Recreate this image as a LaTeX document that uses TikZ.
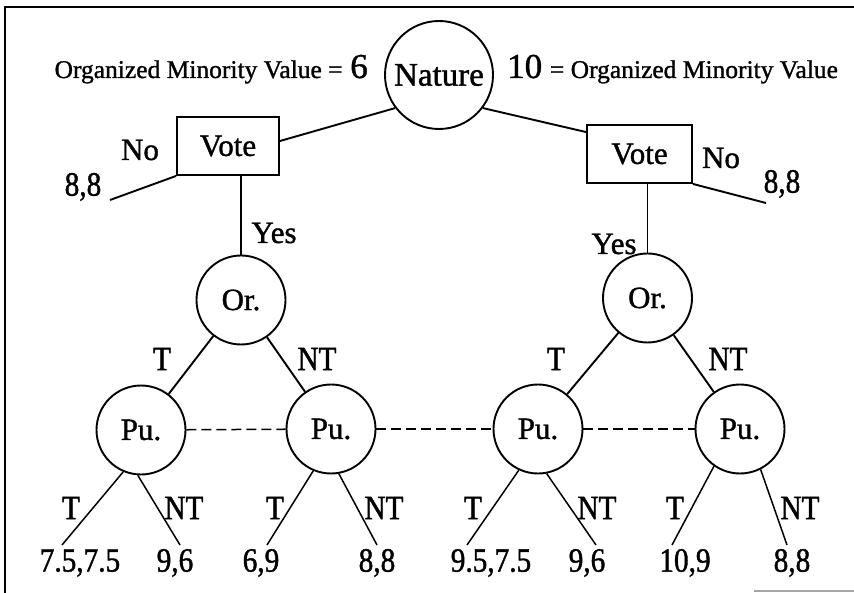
\documentclass[tikz,border=0pt]{standalone}
\usepackage{fontspec}
\setmainfont{Liberation Serif}[FakeBold=1.2]
\newfontfamily\condfont{Liberation Serif}[FakeStretch=0.86,FakeBold=1.2]
\usetikzlibrary{calc}
\begin{document}
\begin{tikzpicture}[x=1pt,y=-1pt,
  every node/.style={font=\fontsize{31}{34}\selectfont, inner sep=0pt},
  cond/.style={font=\condfont\fontsize{34}{38}\selectfont},
  edge/.style={line width=1.9pt},
  thinedge/.style={line width=1.5pt},
  circ/.style={draw, circle, line width=1.9pt, minimum size=89pt},
  votebox/.style={draw, rectangle, line width=1.9pt, minimum width=102pt, minimum height=58pt},
  info/.style={dashed, line width=1.5pt, dash pattern=on 10pt off 5pt}
]
\useasboundingbox (0,0) rectangle (854,593);
% frame
\draw[line width=2pt] (5,593) -- (5,7) -- (854,7);
\draw[black!35, line width=1.5pt] (754,591) -- (854,591);

% nature
\node[circ, minimum size=108pt, font=\fontsize{33}{36}\selectfont] (nature) at (439,75) {Nature};
\node[anchor=base east] (lefttext) at (368,78) {{\fontsize{25.5}{28}\selectfont Organized Minority Value =} {\fontsize{35}{38}\selectfont 6}};
\node[anchor=base west] (righttext) at (507,78) {{\fontsize{35}{38}\selectfont 10} {\fontsize{25.5}{28}\selectfont = Organized Minority Value}};

% vote boxes
\node[votebox] (vote1) at (228,146) {Vote};
\node[votebox, minimum width=105pt] (vote2) at (639.5,154) {Vote};
\draw[edge] (nature.217) -- ($(vote1.east)+(0,-5)$);
\draw[edge] (nature.323) -- ($(vote2.north west)+(0,8)$);

\coordinate (v1leaf) at (110,200);
\coordinate (v2leaf) at (766,203);
\draw[edge] (vote1.south west) -- (v1leaf);
\draw[edge] (vote2.south east) -- (v2leaf);
\node (v1no) at (140,150) {No};
\node[cond] (v1pay) at (83,187) {8,8};
\node (v2no) at (721,158) {No};
\node[cond] (v2pay) at (782,184) {8,8};

% organizer nodes
\node[circ] (or1) at (241,300) {Or.};
\node[circ] (or2) at (647.5,298) {Or.};
\draw[thinedge] (or1.north) -- (or1.north |- vote1.south);
\draw[thinedge] (or2.north) -- (or2.north |- vote2.south);
\node (yes1) at (274,233) {Yes};
\node (yes2) at (614,244) {Yes};

% public nodes
\node[circ] (pu1) at (141,430) {Pu.};
\node[circ] (pu2) at (331,429) {Pu.};
\node[circ] (pu3) at (538,429) {Pu.};
\node[circ] (pu4) at (740,429) {Pu.};
\draw[edge] (or1) -- (pu1);
\draw[edge] (or1) -- (pu2);
\draw[edge] (or2) -- (pu3);
\draw[edge] (or2) -- (pu4);
\node[cond] (ot1) at (162,359) {T};
\node[cond] (ont1) at (317,359) {NT};
\node[cond] (ot2) at (556,359) {T};
\node[cond] (ont2) at (728,359) {NT};

\draw[info] (pu1) -- (pu2);
\draw[info] (pu2) -- (pu3);
\draw[info] (pu3) -- (pu4);

% leaves
\coordinate (l1a) at (62,545);
\coordinate (l1b) at (180,545);
\coordinate (l2a) at (267,545);
\coordinate (l2b) at (377,545);
\coordinate (l3a) at (467,545);
\coordinate (l3b) at (596,545);
\coordinate (l4a) at (672,545);
\coordinate (l4b) at (787,545);
\draw[thinedge] (pu1.247) -- (l1a);
\draw[thinedge] (pu1.266) -- (l1b);
\draw[thinedge] (pu2.247) -- (l2a);
\draw[thinedge] (pu2.280) -- (l2b);
\draw[thinedge] (pu3.245) -- (l3a);
\draw[thinedge] (pu3.281) -- (l3b);
\draw[thinedge] (pu4.235) -- (l4a);
\draw[thinedge] (pu4.297) -- (l4b);

\node[cond] (pt1) at (71,508) {T};
\node[cond] (pnt1) at (184,508) {NT};
\node[cond] (pt2) at (275,508) {T};
\node[cond] (pnt2) at (384,508) {NT};
\node[cond] (pt3) at (473,508) {T};
\node[cond] (pnt3) at (597,508) {NT};
\node[cond] (pt4) at (675,508) {T};
\node[cond] (pnt4) at (800,508) {NT};

\node[cond] (pay1) at (80,563) {7.5,7.5};
\node[cond] (pay2) at (175,563) {9,6};
\node[cond] (pay3) at (261,563) {6,9};
\node[cond] (pay4) at (377,563) {8,8};
\node[cond] (pay5) at (491,563) {9.5,7.5};
\node[cond] (pay6) at (587,563) {9,6};
\node[cond] (pay7) at (685,563) {10,9};
\node[cond] (pay8) at (792,563) {8,8};
\end{tikzpicture}
\end{document}
